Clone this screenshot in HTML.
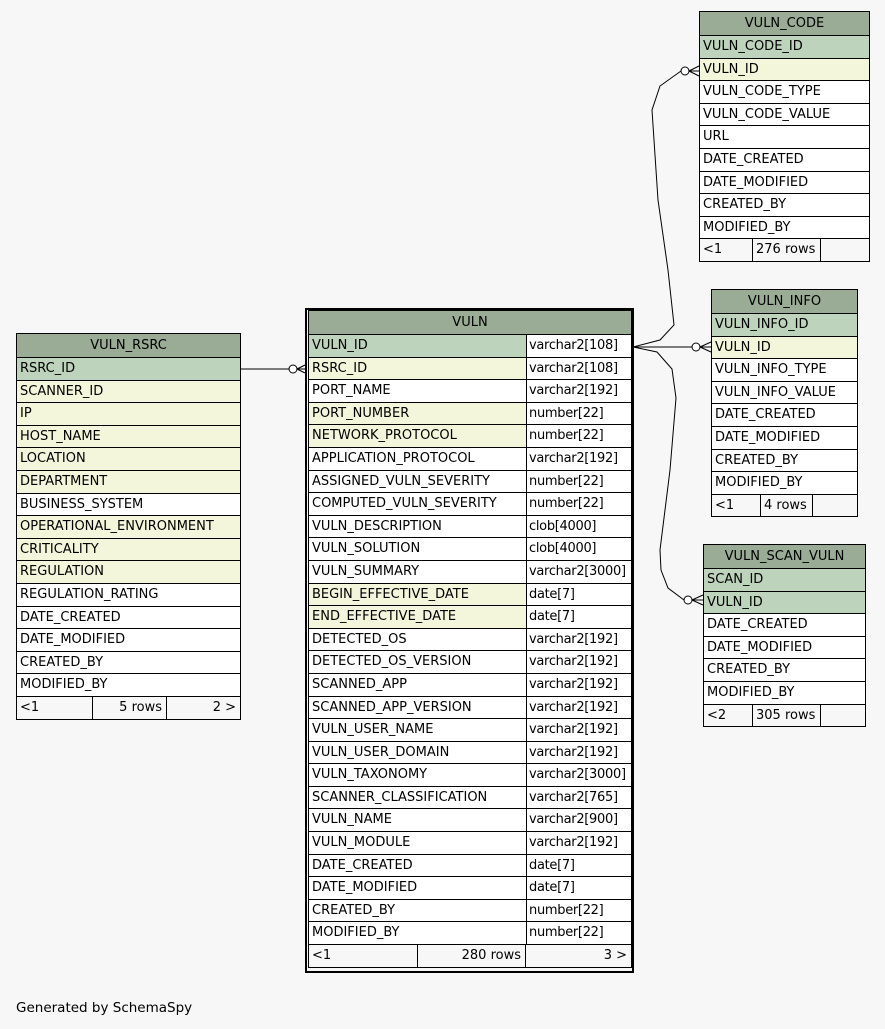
<!DOCTYPE html>
<html><head><meta charset="utf-8"><style>
html,body{margin:0;padding:0}
body{width:885px;height:1029px;background:#f7f7f7;position:relative;overflow:hidden;font-family:"DejaVu Sans","Liberation Sans",sans-serif;font-size:13px;color:#000}
.t{position:absolute;border:1px solid #000;background:#fff;box-sizing:border-box}
.h{height:23px;background:#9aab96;text-align:center;line-height:23px;box-sizing:border-box}
.r{height:22.6px;border-top:1px solid #000;box-sizing:border-box;line-height:21px;display:flex;white-space:nowrap;overflow:hidden}
.r span{padding-left:3px;display:block}
.r .c1{flex:none}
.r .c2{border-left:1px solid #000;flex:1;background:#fff;padding-left:2px;letter-spacing:-0.3px}
.pk{background:#bed3bb}
.fk{background:#f3f6db}
.f{background:#f7f7f7}
.f span{border-left:1px solid #000;box-sizing:border-box;height:100%}
.f span:first-child{border-left:none}
.ra{text-align:right;padding-right:4px}
</style></head><body>
<svg width="885" height="1029" style="position:absolute;left:0;top:0">
<g fill="none" stroke="#000" stroke-width="1">
<line x1="240" y1="369" x2="289" y2="369"/>
<circle cx="293" cy="369" r="4" fill="#fff"/>
<path d="M297 369 L305 365 M297 369 L305 373 M297 369 L305 369"/>
<path d="M633 347 L660 340 L674 325 L668 270 L658 200 L652 110 L660 86 L681 71"/>
<path d="M633 347 L657 352 L672 369 L676 398 L670 470 L660 550 L661 570 L668 588 L684 600"/>
<line x1="633" y1="347" x2="692" y2="347"/>
<circle cx="696" cy="347" r="4" fill="#fff"/>
<path d="M700 347 L711 342 M700 347 L711 352 M700 347 L711 347"/>
<circle cx="685" cy="71" r="4" fill="#fff"/>
<path d="M689 71 L699 66 M689 71 L699 76 M689 71 L699 71"/>
<circle cx="688" cy="600" r="4" fill="#fff"/>
<path d="M692 600 L703 595 M692 600 L703 605 M692 600 L703 600"/>
</g>
</svg>

<div class="t" style="left:16px;top:333px;width:225px">
<div class="h">VULN_RSRC</div>
<div class="r pk"><span>RSRC_ID</span></div>
<div class="r fk"><span>SCANNER_ID</span></div>
<div class="r fk"><span>IP</span></div>
<div class="r fk"><span>HOST_NAME</span></div>
<div class="r fk"><span>LOCATION</span></div>
<div class="r fk"><span>DEPARTMENT</span></div>
<div class="r"><span>BUSINESS_SYSTEM</span></div>
<div class="r fk"><span>OPERATIONAL_ENVIRONMENT</span></div>
<div class="r fk"><span>CRITICALITY</span></div>
<div class="r fk"><span>REGULATION</span></div>
<div class="r"><span>REGULATION_RATING</span></div>
<div class="r"><span>DATE_CREATED</span></div>
<div class="r"><span>DATE_MODIFIED</span></div>
<div class="r"><span>CREATED_BY</span></div>
<div class="r"><span>MODIFIED_BY</span></div>
<div class="r f"><span style="width:75px">&lt;1</span><span class="ra" style="width:74px">5 rows</span><span class="ra" style="flex:1">2 &gt;</span></div>
</div>

<div style="position:absolute;left:305px;top:308px;width:329px;height:665px;border:2px solid #000;box-sizing:border-box"></div>
<div class="t" style="left:308px;top:310px;width:324px">
<div class="h">VULN</div>
<div class="r pk"><span class="c1" style="width:214px">VULN_ID</span><span class="c2">varchar2[108]</span></div>
<div class="r"><span class="c1 fk" style="width:214px">RSRC_ID</span><span class="c2">varchar2[108]</span></div>
<div class="r"><span class="c1" style="width:214px">PORT_NAME</span><span class="c2">varchar2[192]</span></div>
<div class="r"><span class="c1 fk" style="width:214px">PORT_NUMBER</span><span class="c2">number[22]</span></div>
<div class="r"><span class="c1 fk" style="width:214px">NETWORK_PROTOCOL</span><span class="c2">number[22]</span></div>
<div class="r"><span class="c1" style="width:214px">APPLICATION_PROTOCOL</span><span class="c2">varchar2[192]</span></div>
<div class="r"><span class="c1" style="width:214px">ASSIGNED_VULN_SEVERITY</span><span class="c2">number[22]</span></div>
<div class="r"><span class="c1" style="width:214px">COMPUTED_VULN_SEVERITY</span><span class="c2">number[22]</span></div>
<div class="r"><span class="c1" style="width:214px">VULN_DESCRIPTION</span><span class="c2">clob[4000]</span></div>
<div class="r"><span class="c1" style="width:214px">VULN_SOLUTION</span><span class="c2">clob[4000]</span></div>
<div class="r"><span class="c1" style="width:214px">VULN_SUMMARY</span><span class="c2">varchar2[3000]</span></div>
<div class="r"><span class="c1 fk" style="width:214px">BEGIN_EFFECTIVE_DATE</span><span class="c2">date[7]</span></div>
<div class="r"><span class="c1 fk" style="width:214px">END_EFFECTIVE_DATE</span><span class="c2">date[7]</span></div>
<div class="r"><span class="c1" style="width:214px">DETECTED_OS</span><span class="c2">varchar2[192]</span></div>
<div class="r"><span class="c1" style="width:214px">DETECTED_OS_VERSION</span><span class="c2">varchar2[192]</span></div>
<div class="r"><span class="c1" style="width:214px">SCANNED_APP</span><span class="c2">varchar2[192]</span></div>
<div class="r"><span class="c1" style="width:214px">SCANNED_APP_VERSION</span><span class="c2">varchar2[192]</span></div>
<div class="r"><span class="c1" style="width:214px">VULN_USER_NAME</span><span class="c2">varchar2[192]</span></div>
<div class="r"><span class="c1" style="width:214px">VULN_USER_DOMAIN</span><span class="c2">varchar2[192]</span></div>
<div class="r"><span class="c1" style="width:214px">VULN_TAXONOMY</span><span class="c2">varchar2[3000]</span></div>
<div class="r"><span class="c1" style="width:214px">SCANNER_CLASSIFICATION</span><span class="c2">varchar2[765]</span></div>
<div class="r"><span class="c1" style="width:214px">VULN_NAME</span><span class="c2">varchar2[900]</span></div>
<div class="r"><span class="c1" style="width:214px">VULN_MODULE</span><span class="c2">varchar2[192]</span></div>
<div class="r"><span class="c1" style="width:214px">DATE_CREATED</span><span class="c2">date[7]</span></div>
<div class="r"><span class="c1" style="width:214px">DATE_MODIFIED</span><span class="c2">date[7]</span></div>
<div class="r"><span class="c1" style="width:214px">CREATED_BY</span><span class="c2">number[22]</span></div>
<div class="r"><span class="c1" style="width:214px">MODIFIED_BY</span><span class="c2">number[22]</span></div>
<div class="r f"><span style="width:108px">&lt;1</span><span class="ra" style="width:108px">280 rows</span><span class="ra" style="flex:1">3 &gt;</span></div>
</div>

<div class="t" style="left:699px;top:11px;width:171px">
<div class="h">VULN_CODE</div>
<div class="r pk"><span>VULN_CODE_ID</span></div>
<div class="r fk"><span>VULN_ID</span></div>
<div class="r"><span>VULN_CODE_TYPE</span></div>
<div class="r"><span>VULN_CODE_VALUE</span></div>
<div class="r"><span>URL</span></div>
<div class="r"><span>DATE_CREATED</span></div>
<div class="r"><span>DATE_MODIFIED</span></div>
<div class="r"><span>CREATED_BY</span></div>
<div class="r"><span>MODIFIED_BY</span></div>
<div class="r f"><span style="width:52px">&lt;1</span><span style="width:68px">276 rows</span><span style="flex:1"></span></div>
</div>

<div class="t" style="left:711px;top:289px;width:147px">
<div class="h">VULN_INFO</div>
<div class="r pk"><span>VULN_INFO_ID</span></div>
<div class="r fk"><span>VULN_ID</span></div>
<div class="r"><span>VULN_INFO_TYPE</span></div>
<div class="r"><span>VULN_INFO_VALUE</span></div>
<div class="r"><span>DATE_CREATED</span></div>
<div class="r"><span>DATE_MODIFIED</span></div>
<div class="r"><span>CREATED_BY</span></div>
<div class="r"><span>MODIFIED_BY</span></div>
<div class="r f"><span style="width:48px">&lt;1</span><span style="width:52px">4 rows</span><span style="flex:1"></span></div>
</div>

<div class="t" style="left:703px;top:544px;width:163px">
<div class="h">VULN_SCAN_VULN</div>
<div class="r pk"><span>SCAN_ID</span></div>
<div class="r pk"><span>VULN_ID</span></div>
<div class="r"><span>DATE_CREATED</span></div>
<div class="r"><span>DATE_MODIFIED</span></div>
<div class="r"><span>CREATED_BY</span></div>
<div class="r"><span>MODIFIED_BY</span></div>
<div class="r f"><span style="width:48px">&lt;2</span><span style="width:68px">305 rows</span><span style="flex:1"></span></div>
</div>

<div style="position:absolute;left:16px;top:1000px;font-size:13.5px">Generated by SchemaSpy</div>
</body></html>
